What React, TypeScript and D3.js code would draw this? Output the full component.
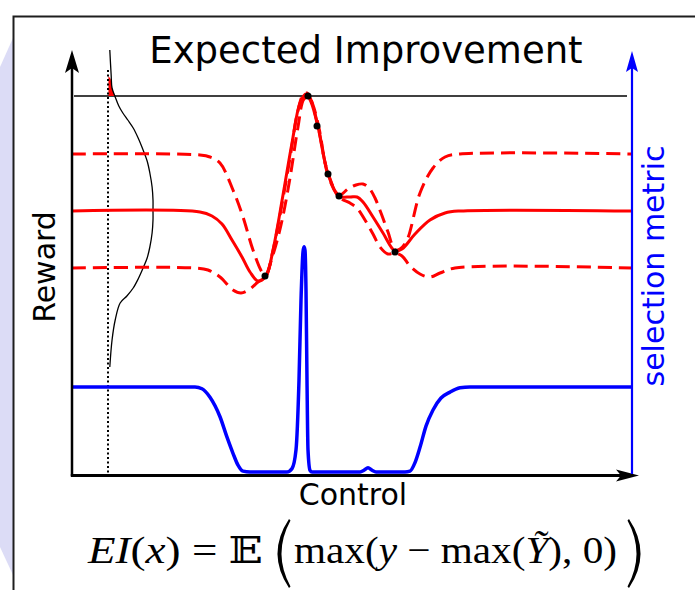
import React from 'react';
import * as d3 from 'd3';

// control (arbitrary units 0..560), reward (arbitrary units, 0 at the x axis)
const meanCurve: [number, number][] = [
  [0, 262], [128, 261], [140, 257], [150, 249], [160, 233], [170, 216], [178, 201],
  [186, 192], [194, 197], [201, 223], [211, 278], [220, 330], [228, 370], [234, 379],
  [239, 371], [246, 346], [256, 299], [267, 277], [278, 276], [285, 276], [291, 271],
  [301, 256], [311, 240], [323, 222], [330, 224], [343, 239], [358, 253], [373, 260],
  [388, 262], [560, 262],
];

const upperCurve: [number, number][] = [
  [0, 319], [128, 318], [138, 316], [148, 310], [161, 283], [171, 256], [181, 223],
  [190, 201], [194, 197], [200, 218], [208, 258], [218, 315], [225, 358], [231, 378],
  [235, 380], [239, 373], [246, 347], [256, 300], [267, 278], [276, 284], [284, 288],
  [291, 289], [297, 285], [303, 275], [309, 260], [316, 241], [323, 223], [328, 224],
  [335, 233], [348, 280], [361, 305], [373, 316], [388, 319], [560, 319],
];

const lowerCurve: [number, number][] = [
  [0, 205], [123, 205], [136, 203], [148, 196], [161, 183], [169, 180], [178, 184],
  [186, 191], [193, 196], [200, 215], [209, 248], [218, 295], [226, 346], [232, 374],
  [237, 376], [241, 368], [247, 345], [256, 298], [267, 276], [278, 270], [285, 265],
  [293, 253], [301, 239], [308, 226], [316, 219], [323, 220], [330, 217], [338, 207],
  [348, 199], [358, 196], [368, 200], [383, 205], [560, 205],
];

const samples: [number, number][] = [
  [193, 197], [236, 377], [245, 347], [256, 299], [267, 277], [323, 221],
];

const bestReward = 377;

// selection metric (expected improvement), 0..~2.7
const eiCurve: [number, number][] = [
  [0, 1], [123, 1], [130, 0.98], [138, 0.88], [148, 0.65], [155, 0.41], [161, 0.22],
  [166, 0.08], [171, 0.01], [178, 0], [215, 0], [220, 0.04], [224, 0.26], [227, 1.08],
  [229, 2.02], [231, 2.59], [232, 2.65], [233, 2.61], [234, 2.14], [235, 1.08],
  [236, 0.26], [238, 0.02], [240, 0], [288, 0], [292, 0.02], [296, 0.05], [300, 0.02],
  [304, 0], [333, 0], [338, 0.01], [343, 0.11], [348, 0.29], [354, 0.54], [361, 0.73],
  [369, 0.87], [378, 0.94], [388, 0.99], [398, 1], [560, 1],
];

// predictive density at the probed control, [density, reward]
const density: [number, number][] = [
  [0.04, 423], [0.07, 398], [0.09, 385], [0.16, 376], [0.24, 367], [0.33, 360],
  [0.44, 353], [0.56, 345], [0.67, 335], [0.78, 323], [0.87, 312], [0.93, 300],
  [0.98, 286], [1, 273], [1, 263], [1, 253], [0.98, 240], [0.93, 226], [0.87, 215],
  [0.78, 205], [0.67, 194], [0.56, 185], [0.42, 177], [0.27, 170], [0.16, 153],
  [0.09, 133], [0.04, 106],
];

// part of the density above the best reward so far
const improveArea: [number, number][] = [
  [0.01, 397], [0.06, 394], [0.09, 385], [0.155, 377], [0.01, 377],
];

const W = 695;
const H = 590;

export default function App() {
  const x = d3.scaleLinear().domain([0, 560]).range([72, 632]);
  const yR = d3.scaleLinear().domain([0, 423]).range([473, 50]);
  const yS = d3.scaleLinear().domain([0, 1]).range([472, 387]);
  const xD = d3.scaleLinear().domain([0, 1]).range([108, 153]);

  const rewardLine = d3.line<[number, number]>()
    .x(d => x(d[0]))
    .y(d => yR(d[1]))
    .curve(d3.curveCatmullRom.alpha(0.5));

  const eiLine = d3.line<[number, number]>()
    .x(d => x(d[0]))
    .y(d => yS(d[1]))
    .curve(d3.curveMonotoneX);

  const densityLine = d3.line<[number, number]>()
    .x(d => xD(d[0]))
    .y(d => yR(d[1]))
    .curve(d3.curveCatmullRom.alpha(0.5));

  const areaPath = d3.line<[number, number]>()
    .x(d => xD(d[0]))
    .y(d => yR(d[1]))(improveArea) + 'Z';

  const sans = 'DejaVu Sans, sans-serif';
  const serif = 'Liberation Serif, DejaVu Serif, serif';

  return (
    <svg width={W} height={H} style={{ position: 'absolute', left: 0, top: 0, display: 'block' }}>
      <rect x={0} y={0} width={W} height={H} fill="#fff" />
      {/* background slide bits */}
      <polygon points="0,67 13,38 13,575 0,547" fill="#dcdcf6" />
      <rect x={13.5} y={16.5} width={720} height={620} fill="#fff" stroke="#1e1e1e" strokeWidth={2} />

      <text x={366} y={63} textAnchor="middle" fontFamily={sans} fontSize={37}>Expected Improvement</text>

      {/* best observed reward */}
      <line x1={74} x2={627} y1={yR(bestReward)} y2={yR(bestReward)} stroke="#000" strokeWidth={1.3} />

      {/* predictive density at the probe */}
      <path d={areaPath} fill="red" />
      <line x1={xD(0)} x2={xD(0)} y1={yR(403)} y2={yR(0)} stroke="#000" strokeWidth={2} strokeDasharray="2 2.5" />
      <path d={densityLine(density) || ''} fill="none" stroke="#000" strokeWidth={1.3} />

      {/* posterior */}
      <path d={rewardLine(upperCurve) || ''} fill="none" stroke="red" strokeWidth={3} strokeDasharray="14 7" />
      <path d={rewardLine(lowerCurve) || ''} fill="none" stroke="red" strokeWidth={3} strokeDasharray="14 7" />
      <path d={rewardLine(meanCurve) || ''} fill="none" stroke="red" strokeWidth={3} />
      {samples.map((d, i) => (
        <circle key={i} cx={x(d[0])} cy={yR(d[1])} r={3.5} fill="#000" />
      ))}

      {/* selection metric */}
      <path d={eiLine(eiCurve) || ''} fill="none" stroke="blue" strokeWidth={3.5} strokeLinejoin="round" />

      {/* axes */}
      <line x1={72} x2={72} y1={476} y2={60} stroke="#000" strokeWidth={2.5} />
      <path d="M72,50 L79,73 L72,68 L65,73 Z" fill="#000" />
      <line x1={70.8} x2={628} y1={475.5} y2={475.5} stroke="#000" strokeWidth={2.8} />
      <path d="M639,475.5 L616,469.5 L621,475.5 L616,481.5 Z" fill="#000" />
      <line x1={632} x2={632} y1={474} y2={60} stroke="blue" strokeWidth={2.2} />
      <path d="M632,51 L638,72 L632,68 L626,72 Z" fill="blue" />

      <text transform="translate(55,267) rotate(-90)" textAnchor="middle" fontFamily={sans} fontSize={30}>Reward</text>
      <text transform="translate(664,266) rotate(-90)" textAnchor="middle" fontFamily={sans} fontSize={30} fill="blue">selection metric</text>
      <text x={353} y={505} textAnchor="middle" fontFamily={sans} fontSize={30}>Control</text>

      {/* formula */}
      <text x={88} y={563} fontFamily={serif} fontSize={38} textLength={175} lengthAdjust="spacingAndGlyphs">
        <tspan fontStyle="italic">EI</tspan>(<tspan fontStyle="italic">x</tspan>) = <tspan fontFamily="DejaVu Serif, DejaVu Sans">𝔼</tspan>
      </text>
      <path d="M289,519 Q266,553.5 289,588 L290.5,586.5 Q272.5,553.5 290.5,520.5 Z" fill="#000" />
      <text x={294} y={563} fontFamily={serif} fontSize={38} textLength={323} lengthAdjust="spacingAndGlyphs">
        max(<tspan fontStyle="italic">y</tspan> − max(<tspan fontStyle="italic">Ỹ</tspan>), 0)
      </text>
      <path d="M629,519 Q652,553.5 629,588 L627.5,586.5 Q645.5,553.5 627.5,520.5 Z" fill="#000" />
    </svg>
  );
}
